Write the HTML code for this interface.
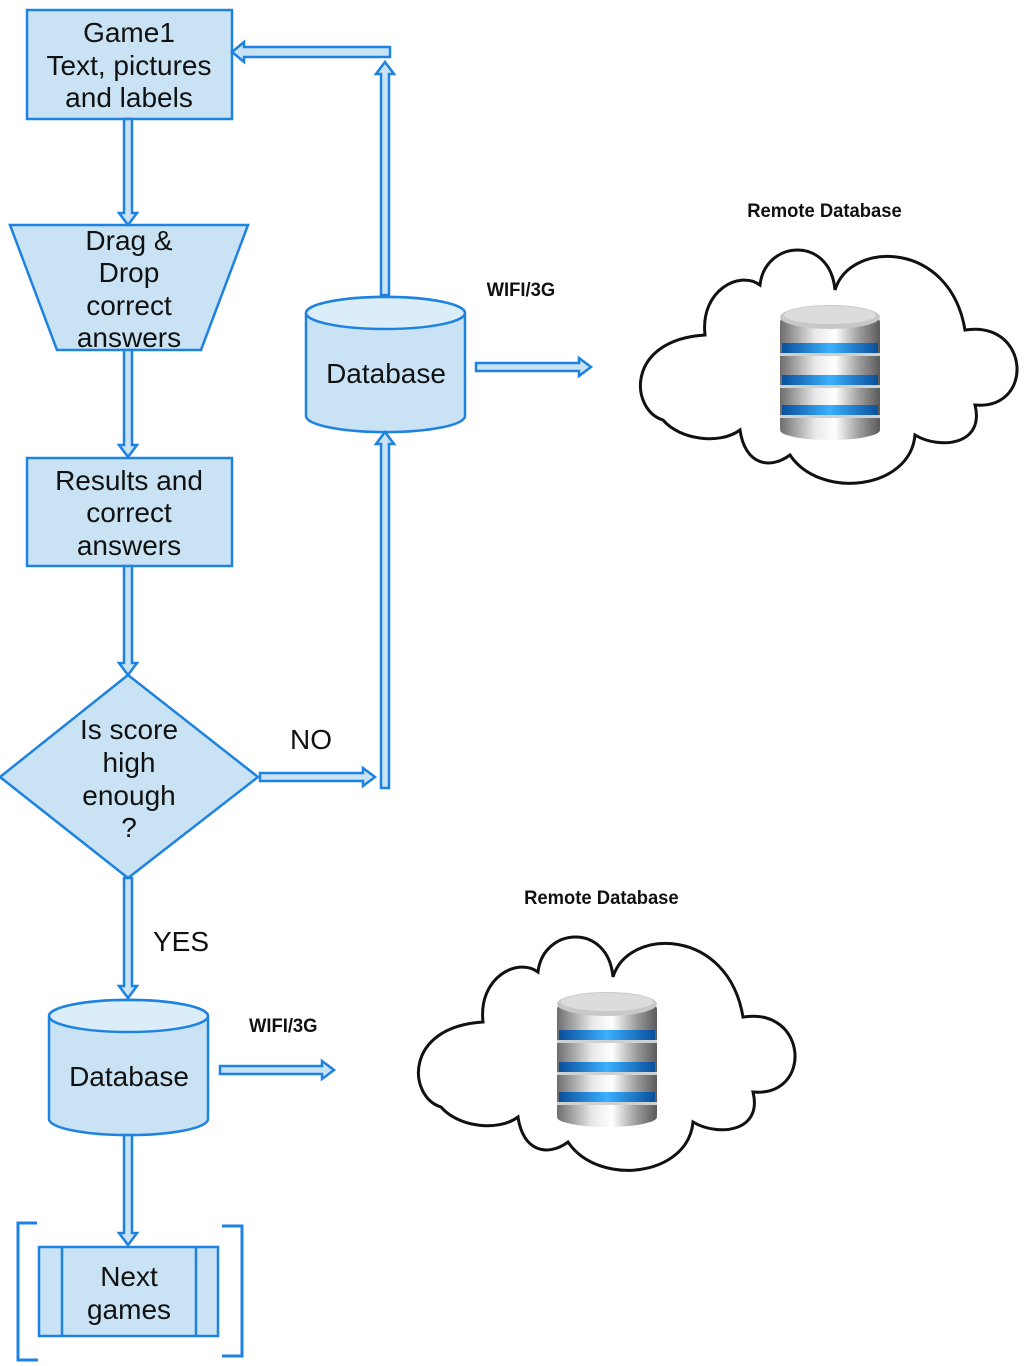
<!DOCTYPE html>
<html><head><meta charset="utf-8"><style>html,body{margin:0;padding:0;background:#fff}svg{display:block}</style></head>
<body>
<svg width="1024" height="1366" viewBox="0 0 1024 1366" xmlns="http://www.w3.org/2000/svg">
<defs>
<linearGradient id="g" x1="0" x2="1" y1="0" y2="0">
<stop offset="0" stop-color="#6d6d6d"/><stop offset="0.35" stop-color="#e8e8e8"/><stop offset="0.55" stop-color="#ffffff"/><stop offset="0.8" stop-color="#9a9a9a"/><stop offset="1" stop-color="#5a5a5a"/>
</linearGradient>
<linearGradient id="b" x1="0" x2="1"><stop offset="0" stop-color="#0a4f9a"/><stop offset="0.5" stop-color="#3bb0ff"/><stop offset="1" stop-color="#0a4f9a"/></linearGradient>
<g id="db">
<rect x="0" y="10" width="100" height="120" rx="8" fill="url(#g)"/>
<ellipse cx="50" cy="125" rx="50" ry="10" fill="url(#g)"/>
<rect x="2" y="38" width="96" height="10" fill="url(#b)"/>
<rect x="2" y="70" width="96" height="10" fill="url(#b)"/>
<rect x="2" y="100" width="96" height="10" fill="url(#b)"/>
<rect x="0" y="48" width="100" height="22" fill="url(#g)"/>
<rect x="0" y="80" width="100" height="20" fill="url(#g)"/>
<rect x="0" y="48" width="100" height="3" fill="#d0d0d0"/>
<rect x="0" y="80" width="100" height="3" fill="#d0d0d0"/>
<rect x="0" y="110" width="100" height="3" fill="#d0d0d0"/>
<ellipse cx="50" cy="12" rx="50" ry="12" fill="#c8c8c8"/>
<ellipse cx="50" cy="10" rx="46" ry="9" fill="#dcdcdc"/>
</g>
<path id="cloud" d="M 663,420 C 630,410 625,340 705,335 C 700,290 740,270 760,285 C 765,240 830,235 835,290 C 850,240 950,240 965,330 C 1030,320 1035,410 975,405 C 985,445 940,450 915,435 C 910,490 820,500 790,455 C 770,470 745,465 740,430 C 720,445 680,440 663,420 Z" fill="#fff" stroke="#111" stroke-width="3"/>
</defs>
<g fill="#c9e3f5" stroke="#1e82e0" stroke-width="2.5">
<rect x="27" y="10" width="205" height="109"/>
<polygon points="10,225 248,225 201,350 57,350"/>
<rect x="27" y="458" width="205" height="108"/>
<polygon points="128,675 258,777 128,878 0,777"/>
<path d="M306,313 A79,16 0 0 1 465,313 L465,416 A79,16 0 0 1 306,416 Z"/>
<ellipse cx="385.5" cy="313" rx="79.5" ry="16" fill="#daedf9"/>
<path d="M49,1016 A79,16 0 0 1 208,1016 L208,1119 A79,16 0 0 1 49,1119 Z"/>
<ellipse cx="128.5" cy="1016" rx="79.5" ry="16" fill="#daedf9"/>
<rect x="39" y="1247" width="179" height="89"/>
<line x1="62" y1="1247" x2="62" y2="1336"/><line x1="196" y1="1247" x2="196" y2="1336"/>
<path d="M124,119 V213 H119 L128,225 L137,213 H132 V119 Z"/>
<path d="M124,350 V445 H119 L128,457 L137,445 H132 V350 Z"/>
<path d="M124,566 V663 H119 L128,675 L137,663 H132 V566 Z"/>
<path d="M124,878 V986 H119 L128,998 L137,986 H132 V878 Z"/>
<path d="M124,1135 V1233 H119 L128,1245 L137,1233 H132 V1135 Z"/>
<path d="M381,295 V74 H376 L385,62 L394,74 H389 V295 Z"/>
<path d="M381,788 V444 H376 L385,432 L394,444 H389 V788 Z"/>
<path d="M390,47 H244 V42 L232,52 L244,62 V57 H390 Z"/>
<path d="M260,773 H363 V768 L375,777 L363,786 V781 H260 Z"/>
<path d="M476,363 H579 V358 L591,367 L579,376 V371 H476 Z"/>
<path d="M220,1066 H322 V1061 L334,1070 L322,1079 V1074 H220 Z"/>
</g>
<g fill="none" stroke="#1e82e0" stroke-width="3">
<path d="M37,1223 H18 V1360 H38"/>
<path d="M222,1226 H242 V1356 H222"/>
</g>
<use href="#cloud"/>
<use href="#db" x="780" y="305"/>
<use href="#cloud" transform="translate(-222,687)"/>
<use href="#db" x="557" y="992"/>
<g font-family="Liberation Sans, sans-serif" font-size="28" fill="#111" text-anchor="middle">
<text x="129" y="42">Game1</text><text x="129" y="75">Text, pictures</text><text x="129" y="107">and labels</text>
<text x="129" y="250">Drag &amp;</text><text x="129" y="282">Drop</text><text x="129" y="315">correct</text><text x="129" y="347">answers</text>
<text x="129" y="490">Results and</text><text x="129" y="522">correct</text><text x="129" y="555">answers</text>
<text x="129" y="739">Is score</text><text x="129" y="772">high</text><text x="129" y="805">enough</text><text x="129" y="837">?</text>
<text x="386" y="383">Database</text>
<text x="129" y="1086">Database</text>
<text x="129" y="1286">Next</text><text x="129" y="1319">games</text>
<text x="311" y="749">NO</text>
<text x="181" y="951">YES</text>
</g>
<g font-family="Liberation Sans, sans-serif" font-size="19" font-weight="bold" fill="#111" text-anchor="middle" transform="scale(0.97,1)">
<text x="850" y="217">Remote Database</text>
<text x="620" y="904">Remote Database</text>
<text x="537" y="296">WIFI/3G</text>
<text x="292" y="1032">WIFI/3G</text>
</g>
</svg>
</body></html>
